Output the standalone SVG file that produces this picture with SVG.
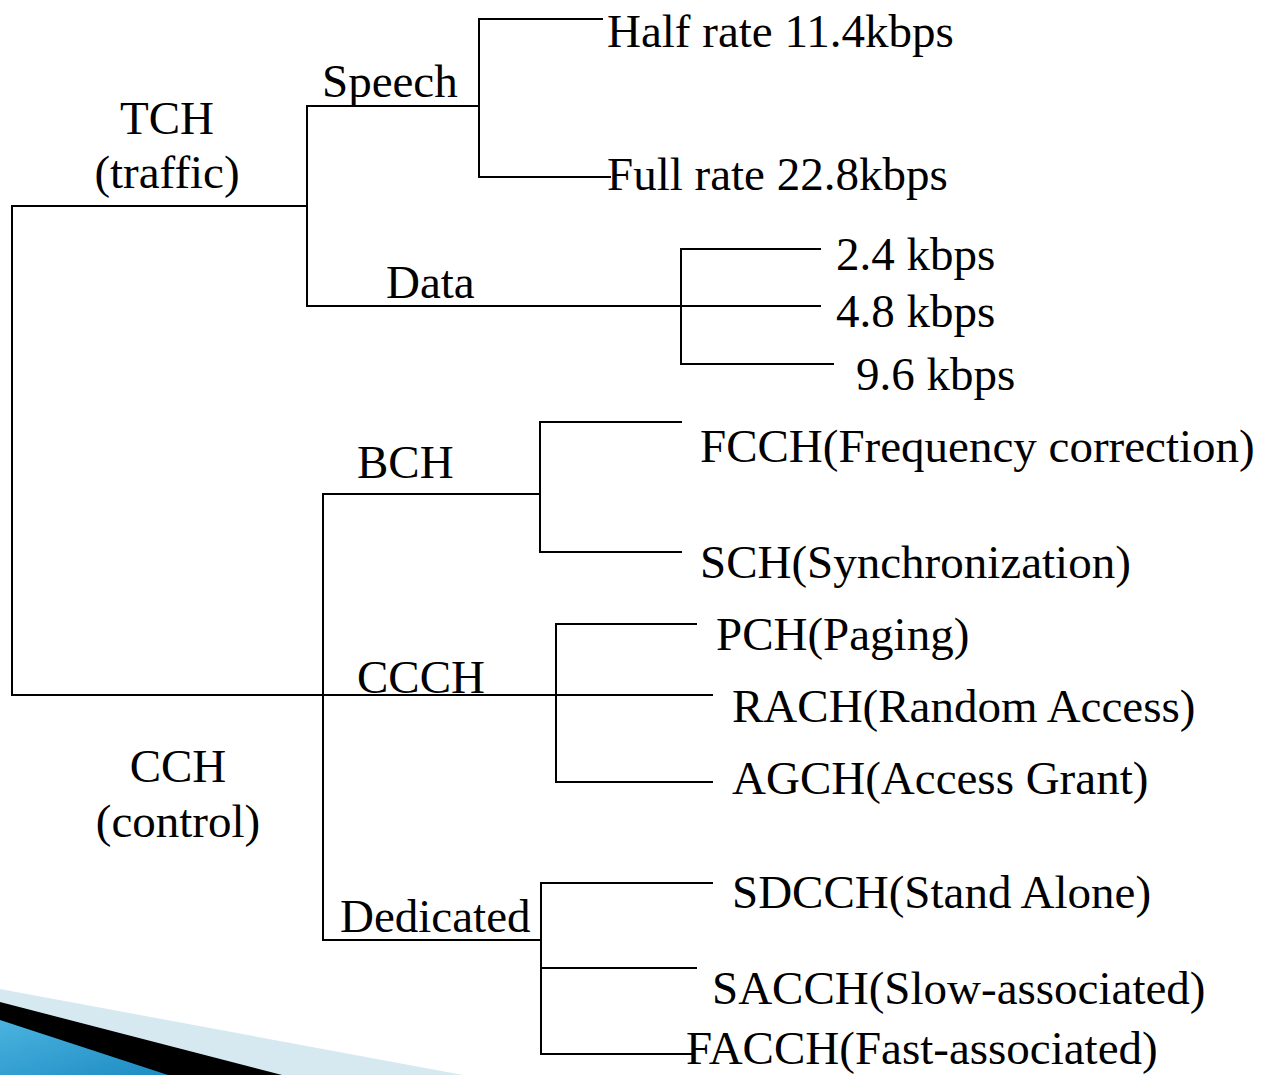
<svg xmlns="http://www.w3.org/2000/svg" width="1270" height="1075" viewBox="0 0 1270 1075">
  <style>
    .t { font-family: "Liberation Serif", "Times New Roman", serif; font-size: 47px; fill: #000; }
    .m { text-anchor: middle; }
    .c line { stroke: #000; stroke-width: 2; stroke-linecap: square; }
  </style>
  <defs>
    <linearGradient id="blue" x1="0" y1="0" x2="1" y2="1">
      <stop offset="0" stop-color="#4bb3df"/>
      <stop offset="1" stop-color="#1d8cc4"/>
    </linearGradient>
  </defs>
  <rect width="1270" height="1075" fill="#fff"/>
  <g id="swoosh">
    <polygon points="0,989 463,1075 0,1075" fill="#d6e9f1"/>
    <polygon points="0,1002 282,1075 0,1075" fill="#000"/>
    <polygon points="0,1020 168,1075 0,1075" fill="url(#blue)"/>
  </g>
  <g id="connectors" class="c">
    <line x1="12" y1="206" x2="12" y2="695"/>
    <line x1="12" y1="206" x2="307" y2="206"/>
    <line x1="12" y1="695" x2="712" y2="695"/>
    <line x1="307" y1="106" x2="307" y2="306"/>
    <line x1="307" y1="106" x2="479" y2="106"/>
    <line x1="479" y1="19" x2="479" y2="177"/>
    <line x1="479" y1="19" x2="602" y2="19"/>
    <line x1="479" y1="177" x2="610" y2="177"/>
    <line x1="307" y1="306" x2="820" y2="306"/>
    <line x1="681" y1="249" x2="681" y2="364"/>
    <line x1="681" y1="249" x2="820" y2="249"/>
    <line x1="681" y1="364" x2="833" y2="364"/>
    <line x1="323" y1="494" x2="323" y2="940"/>
    <line x1="323" y1="494" x2="540" y2="494"/>
    <line x1="540" y1="422" x2="540" y2="552"/>
    <line x1="540" y1="422" x2="681" y2="422"/>
    <line x1="540" y1="552" x2="681" y2="552"/>
    <line x1="556" y1="624" x2="556" y2="782"/>
    <line x1="556" y1="624" x2="696" y2="624"/>
    <line x1="556" y1="782" x2="712" y2="782"/>
    <line x1="323" y1="940" x2="541" y2="940"/>
    <line x1="541" y1="883" x2="541" y2="1054"/>
    <line x1="541" y1="883" x2="712" y2="883"/>
    <line x1="541" y1="968" x2="696" y2="968"/>
    <line x1="541" y1="1054" x2="693" y2="1054"/>
  </g>
  <g id="tch"><text class="t m" x="167" y="134">TCH</text><text class="t m" x="167" y="188">(traffic)</text></g>
  <g id="cch"><text class="t m" x="178" y="782">CCH</text><text class="t m" x="178" y="837">(control)</text></g>
  <g id="speech"><text class="t" x="322" y="97">Speech</text></g>
  <g id="data"><text class="t" x="386" y="298">Data</text></g>
  <g id="half"><text class="t" x="607" y="47">Half rate 11.4kbps</text></g>
  <g id="full"><text class="t" x="607" y="190">Full rate 22.8kbps</text></g>
  <g id="r24"><text class="t" x="836" y="270">2.4 kbps</text></g>
  <g id="r48"><text class="t" x="836" y="327">4.8 kbps</text></g>
  <g id="r96"><text class="t" x="856" y="390">9.6 kbps</text></g>
  <g id="bch"><text class="t" x="357" y="478">BCH</text></g>
  <g id="ccch"><text class="t" x="357" y="693">CCCH</text></g>
  <g id="dedicated"><text class="t" x="340" y="932">Dedicated</text></g>
  <g id="fcch"><text class="t" x="700" y="462">FCCH(Frequency correction)</text></g>
  <g id="sch"><text class="t" x="700" y="578">SCH(Synchronization)</text></g>
  <g id="pch"><text class="t" x="716" y="650">PCH(Paging)</text></g>
  <g id="rach"><text class="t" x="732" y="722">RACH(Random Access)</text></g>
  <g id="agch"><text class="t" x="732" y="794">AGCH(Access Grant)</text></g>
  <g id="sdcch"><text class="t" x="732" y="908">SDCCH(Stand Alone)</text></g>
  <g id="sacch"><text class="t" x="712" y="1004">SACCH(Slow-associated)</text></g>
  <g id="facch"><text class="t" x="686" y="1064">FACCH(Fast-associated)</text></g>
</svg>
